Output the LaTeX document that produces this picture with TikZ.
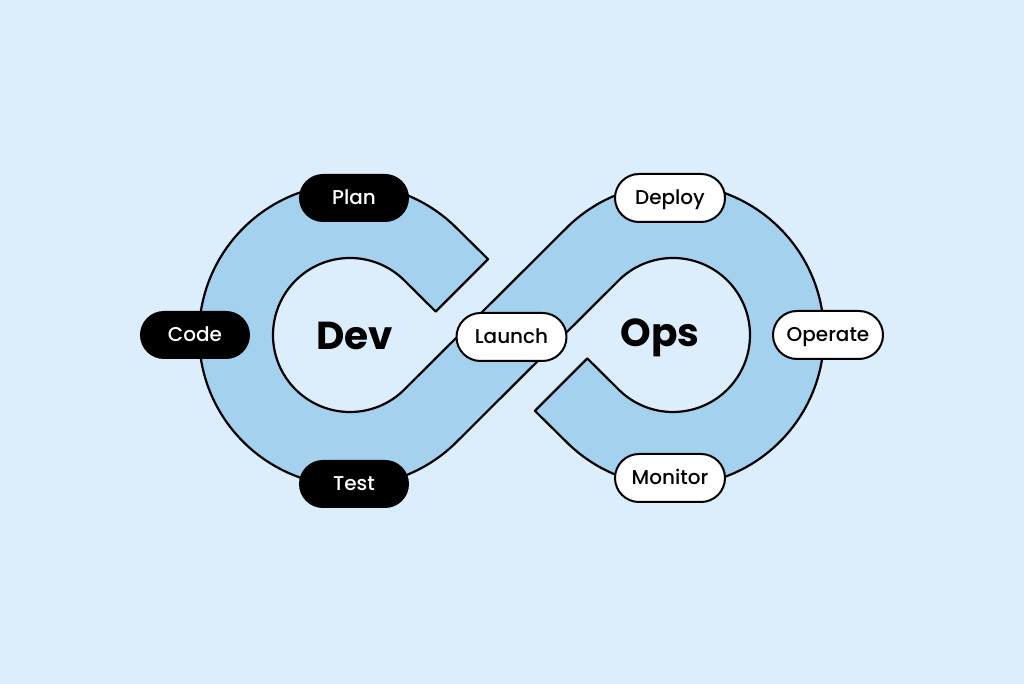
\documentclass[tikz,border=0pt]{standalone}
\usepackage{fontspec}
\setmainfont{Poppins}
\newfontfamily\pillfont{Poppins Medium}
\usetikzlibrary{positioning}
\definecolor{bgblue}{HTML}{DCEEFB}
\definecolor{loopblue}{HTML}{A3D1EE}

\begin{document}
\begin{tikzpicture}[x=1pt, y=1pt, line join=round,
    blackpill/.style={rectangle, rounded corners=24pt, fill=black, text=white,
        minimum width=110pt, minimum height=48pt, inner sep=0pt,
        text height=15pt, text depth=1pt,
        font=\pillfont\fontsize{20}{20}\selectfont},
    whitepill/.style={blackpill, fill=white, text=black, draw=black, line width=2pt},
    side/.style={font=\fontsize{39}{39}\selectfont\bfseries}]

    \fill[bgblue] (-511.5,-349) rectangle (512.5,335);

    % the infinity band, cut where it passes under
    \draw[fill=loopblue, line width=2.2pt]
        (-23.4,75.8) -- (-54.73,106.77)
        arc[start angle=45, end angle=315, radius=151]
        -- (107.05,54.45)
        arc[start angle=135, end angle=-135, radius=77]
        -- (75.8,-23.4) -- (23.4,-75.8) -- (54.73,-106.77)
        arc[start angle=-135, end angle=135, radius=151]
        -- (-107.05,-54.45)
        arc[start angle=315, end angle=45, radius=77]
        -- (-75.8,23.4) -- cycle;

    \node[side]              (dev)     at (-156.5,-1)  {Dev};
    \node[side]              (ops)     at (148.5,-3)   {Ops};

    \node[blackpill]         (plan)    at (-157.5,137) {Plan};
    \node[blackpill]         (code)    at (-316.5,0)   {Code};
    \node[blackpill]         (test)    at (-157.5,-149) {Test};
    \node[whitepill]         (launch)  at (0,-2)       {Launch};
    \node[whitepill]         (deploy)  at (158.5,137)  {Deploy};
    \node[whitepill]         (operate) at (316.5,0)    {Operate};
    \node[whitepill]         (monitor) at (158.5,-143) {Monitor};

\end{tikzpicture}
\end{document}
